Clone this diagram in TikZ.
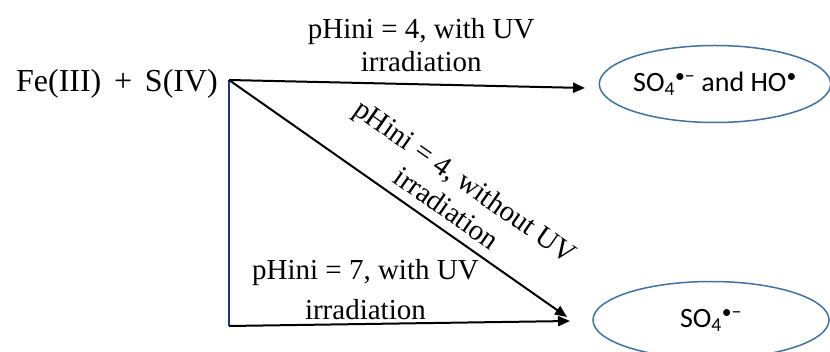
\documentclass[tikz,border=0pt]{standalone}
\usepackage{fontspec}
\setmainfont{Liberation Serif}
\newfontfamily\calibrifont{Carlito}
\usetikzlibrary{arrows.meta,shapes.geometric}
\definecolor{ellblue}{RGB}{65,113,156}
\definecolor{navyline}{RGB}{32,56,100}
\begin{document}
\begin{tikzpicture}[x=1pt,y=-1pt,
        arr/.style={line width=2pt,-{Triangle[length=12pt,width=10pt]}},
        lbl/.style={font=\fontsize{29}{33}\selectfont,align=center,inner sep=1pt},
        prod/.style={draw=ellblue,line width=1.5pt,ellipse,inner sep=0pt,font=\calibrifont\fontsize{28}{32}\selectfont}]
        \useasboundingbox (0,0) rectangle (830,352);
        \coordinate (A) at (229,80);
        \coordinate (B) at (229,326);
        \coordinate (C) at (585,88);
        \coordinate (D) at (567,317);
        \coordinate (E) at (570,321);
        \node[font=\fontsize{32}{36}\selectfont] (reac) at (117,84) {Fe(III)\hspace{0.4em}+\hspace{0.4em}S(IV)};
        \node[prod,minimum width=230pt,minimum height=77pt] (both) at (715,84) {SO\textsubscript{4}\textsuperscript{•−} and HO\textsuperscript{•}};
        \node[prod,minimum width=236pt,minimum height=77pt] (sulf) at (711,320) {SO\textsubscript{4}\textsuperscript{•−}};
        \draw[navyline,line width=2pt] (A) -- (B);
        \draw[arr] (A) -- (C) node[lbl,pos=0.54,above=11pt] {pHini = 4, with UV\\irradiation};
        \draw[arr] (A) -- (D) node[lbl,pos=0.61,sloped,above=8pt] {pHini = 4, without UV\\irradiation};
        \draw[arr] (B) -- (E) node[lbl,pos=0.4,above=2pt] {pHini = 7, with UV\\[7pt]irradiation};
\end{tikzpicture}
\end{document}
